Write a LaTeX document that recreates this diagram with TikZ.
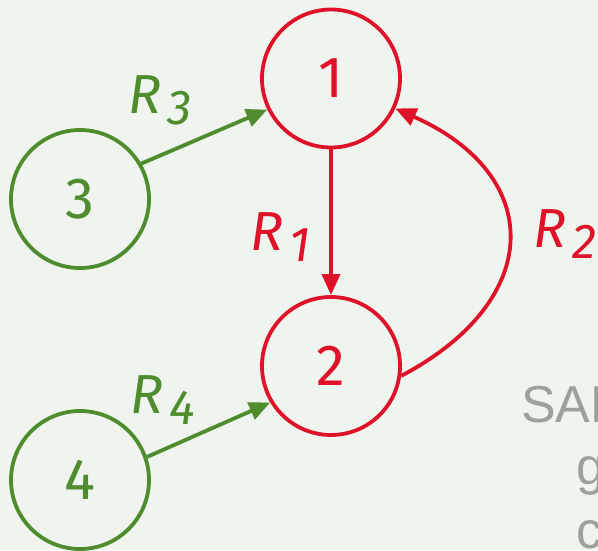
\documentclass[tikz,border=0pt]{standalone}
\usepackage{fontspec}
\setmainfont{Fira Sans}
\newfontfamily\grayfont{Liberation Sans}
\usetikzlibrary{arrows.meta}
\definecolor{bgc}{HTML}{EFF5EE}
\definecolor{redc}{HTML}{DE1329}
\definecolor{greenc}{HTML}{4E8C2E}
\definecolor{grayc}{HTML}{9CA29A}
\newcommand{\rlab}[1]{\fontsize{55}{55}\selectfont\itshape R\hspace{6pt}\raisebox{-11pt}{\fontsize{49}{49}\selectfont #1}}
\tikzset{
  statenode/.style={circle, draw, line width=3.8pt, minimum size=138pt, inner sep=0pt, font=\fontsize{58}{58}\selectfont},
  rednode/.style={statenode, draw=redc, text=redc},
  greennode/.style={statenode, draw=greenc, text=greenc},
  conn/.style={line width=3.8pt, -{Triangle[length=21pt,width=18pt]}},
  lab/.style={anchor=base west, inner sep=0pt},
  graytext/.style={anchor=base west, inner sep=0pt, text=grayc, font=\grayfont\fontsize{52}{52}\selectfont}
}
\begin{document}
\begin{tikzpicture}[x=1pt,y=-1pt]
\fill[bgc] (0,0) rectangle (598,550);
\useasboundingbox (0,0) rectangle (598,550);
\clip (0,0) rectangle (598,550);
\node[rednode] (n1) at (331,78.5) {1};
\node[rednode] (n2) at (331,366) {2};
\node[greennode] (n3) at (80,199) {3};
\node[greennode] (n4) at (80,480) {4};
\draw[conn, redc] (n1) -- (n2);
\draw[conn, greenc] (n3.30) -- (n1.206);
\draw[conn, redc] (n2.-8) .. controls (545,300) and (545,175) .. (n1.-25);
\draw[conn, greenc] (n4.19) -- (n2.211);
\node[lab, text=greenc] (r3) at (128,113) {\rlab{3}};
\node[lab, text=redc] (r1) at (250,250) {\rlab{1}};
\node[lab, text=redc] (r2) at (533,247) {\rlab{2}};
\node[lab, text=greenc] (r4) at (130,413) {\rlab{4}};
\node[graytext] (t1) at (521,422) {SAMPLE};
\node[graytext] (t2) at (576,484) {generated};
\node[graytext] (t3) at (576,548) {content};
\end{tikzpicture}
\end{document}
